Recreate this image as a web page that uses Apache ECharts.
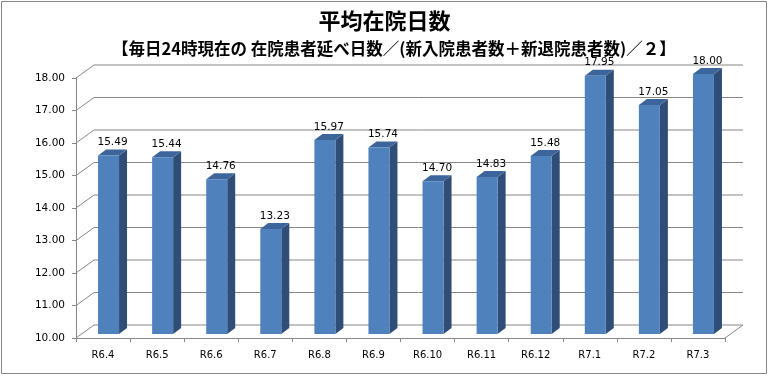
<!DOCTYPE html>
<html>
<head>
<meta charset="utf-8">
<script src="https://cdn.jsdelivr.net/npm/echarts@6/dist/echarts.min.js"></script>
<style>
html,body{margin:0;padding:0;background:#fff;}
#c{width:769px;height:376px;}
</style>
</head>
<body>
<div id="c"></div>
<script>
const categories = ['R6.4','R6.5','R6.6','R6.7','R6.8','R6.9','R6.10','R6.11','R6.12','R7.1','R7.2','R7.3'];
const values = [15.49,15.44,14.76,13.23,15.97,15.74,14.70,14.83,15.48,17.95,17.05,18.00];
const yTicks = [10,11,12,13,14,15,16,17,18];
const titleText = '平均在院日数';
const subtitleText = '【毎日24時現在の 在院患者延べ日数／(新入院患者数＋新退院患者数)／２】';

const DX = 18, DY = -13;       // back wall offset
const BX = 5.5, BY = -4;       // bar placement offset
const SX = 8, SY = -6;         // bar depth
const BW = 21;                 // bar front width
const FONT = 'DejaVu Sans';

const chart = echarts.init(document.getElementById('c'), null, {renderer:'canvas'});
chart.setOption({
  animation:false,
  backgroundColor:'#fff',
  title:[
    {text:titleText, left:'center', top:5, textStyle:{fontFamily:'Noto Sans CJK JP', fontSize:22, fontWeight:'bold', color:'#000'}},
    {text:subtitleText, left:107, top:35, textStyle:{fontFamily:'Noto Sans CJK JP', fontSize:16.5, fontWeight:'bold', color:'#000'}}
  ],
  graphic:[{type:'rect', shape:{x:1.5,y:1.5,width:765,height:372}, style:{fill:'none', stroke:'#868686', lineWidth:1}, silent:true}],
  grid:{left:76, right:44, top:78, bottom:38},
  xAxis:{
    type:'category', data:categories,
    axisLine:{lineStyle:{color:'#868686'}},
    axisTick:{show:true, length:4, lineStyle:{color:'#868686'}},
    axisLabel:{fontFamily:FONT, fontSize:10, color:'#000', margin:12},
    splitLine:{show:false}
  },
  yAxis:{
    type:'value', min:10, max:18, interval:1,
    axisLine:{show:true, lineStyle:{color:'#868686'}},
    axisTick:{show:true, length:4, lineStyle:{color:'#868686'}},
    axisLabel:{fontFamily:FONT, fontSize:10.5, color:'#000', margin:11, formatter:v=>v.toFixed(2)},
    splitLine:{show:false}
  },
  series:[
    {
      type:'custom', z:1, silent:true,
      data:yTicks.map(v=>[0,v]),
      renderItem:function(params, api){
        const cs = params.coordSys;
        const v = api.value(1);
        const y = api.coord([0, v])[1];
        const x0 = cs.x, x1 = cs.x + cs.width;
        const children = [
          {type:'line', shape:{x1:x0, y1:y, x2:x0+DX, y2:y+DY}, style:{stroke:'#868686', lineWidth:1}},
          {type:'line', shape:{x1:x0+DX, y1:y+DY, x2:x1+DX, y2:y+DY}, style:{stroke:'#868686', lineWidth:1}}
        ];
        if (v === yTicks[0]) {
          children.push({type:'line', shape:{x1:x1, y1:y, x2:x1+DX, y2:y+DY}, style:{stroke:'#868686', lineWidth:1}});
        }
        return {type:'group', children:children};
      }
    },
    {
      type:'custom', z:5, silent:true,
      data:values.map((v,i)=>[i,v]),
      renderItem:function(params, api){
        const i = api.value(0), v = api.value(1);
        const top = api.coord([i, v]);
        const base = api.coord([i, yTicks[0]]);
        const cx = top[0] + BX;
        const xl = cx - BW/2, xr = cx + BW/2;
        const yt = top[1] + BY, yb = base[1] + BY;
        return {type:'group', children:[
          {type:'polygon', shape:{points:[[xr,yt],[xr+SX,yt+SY],[xr+SX,yb+SY],[xr,yb]]}, style:{fill:'#2F4D77'}},
          {type:'polygon', shape:{points:[[xl,yt],[xl+SX,yt+SY],[xr+SX,yt+SY],[xr,yt]]}, style:{fill:'#3C659B'}},
          {type:'rect', shape:{x:xl, y:yt, width:BW, height:yb-yt}, style:{fill:'#4F81BD'}},
          {type:'text', x:cx+SX/2, y:yt+SY-7, style:{text:v.toFixed(2), fontFamily:FONT, fontSize:10.5, fill:'#000', align:'center', verticalAlign:'middle'}}
        ]};
      }
    }
  ]
});
</script>
</body>
</html>
